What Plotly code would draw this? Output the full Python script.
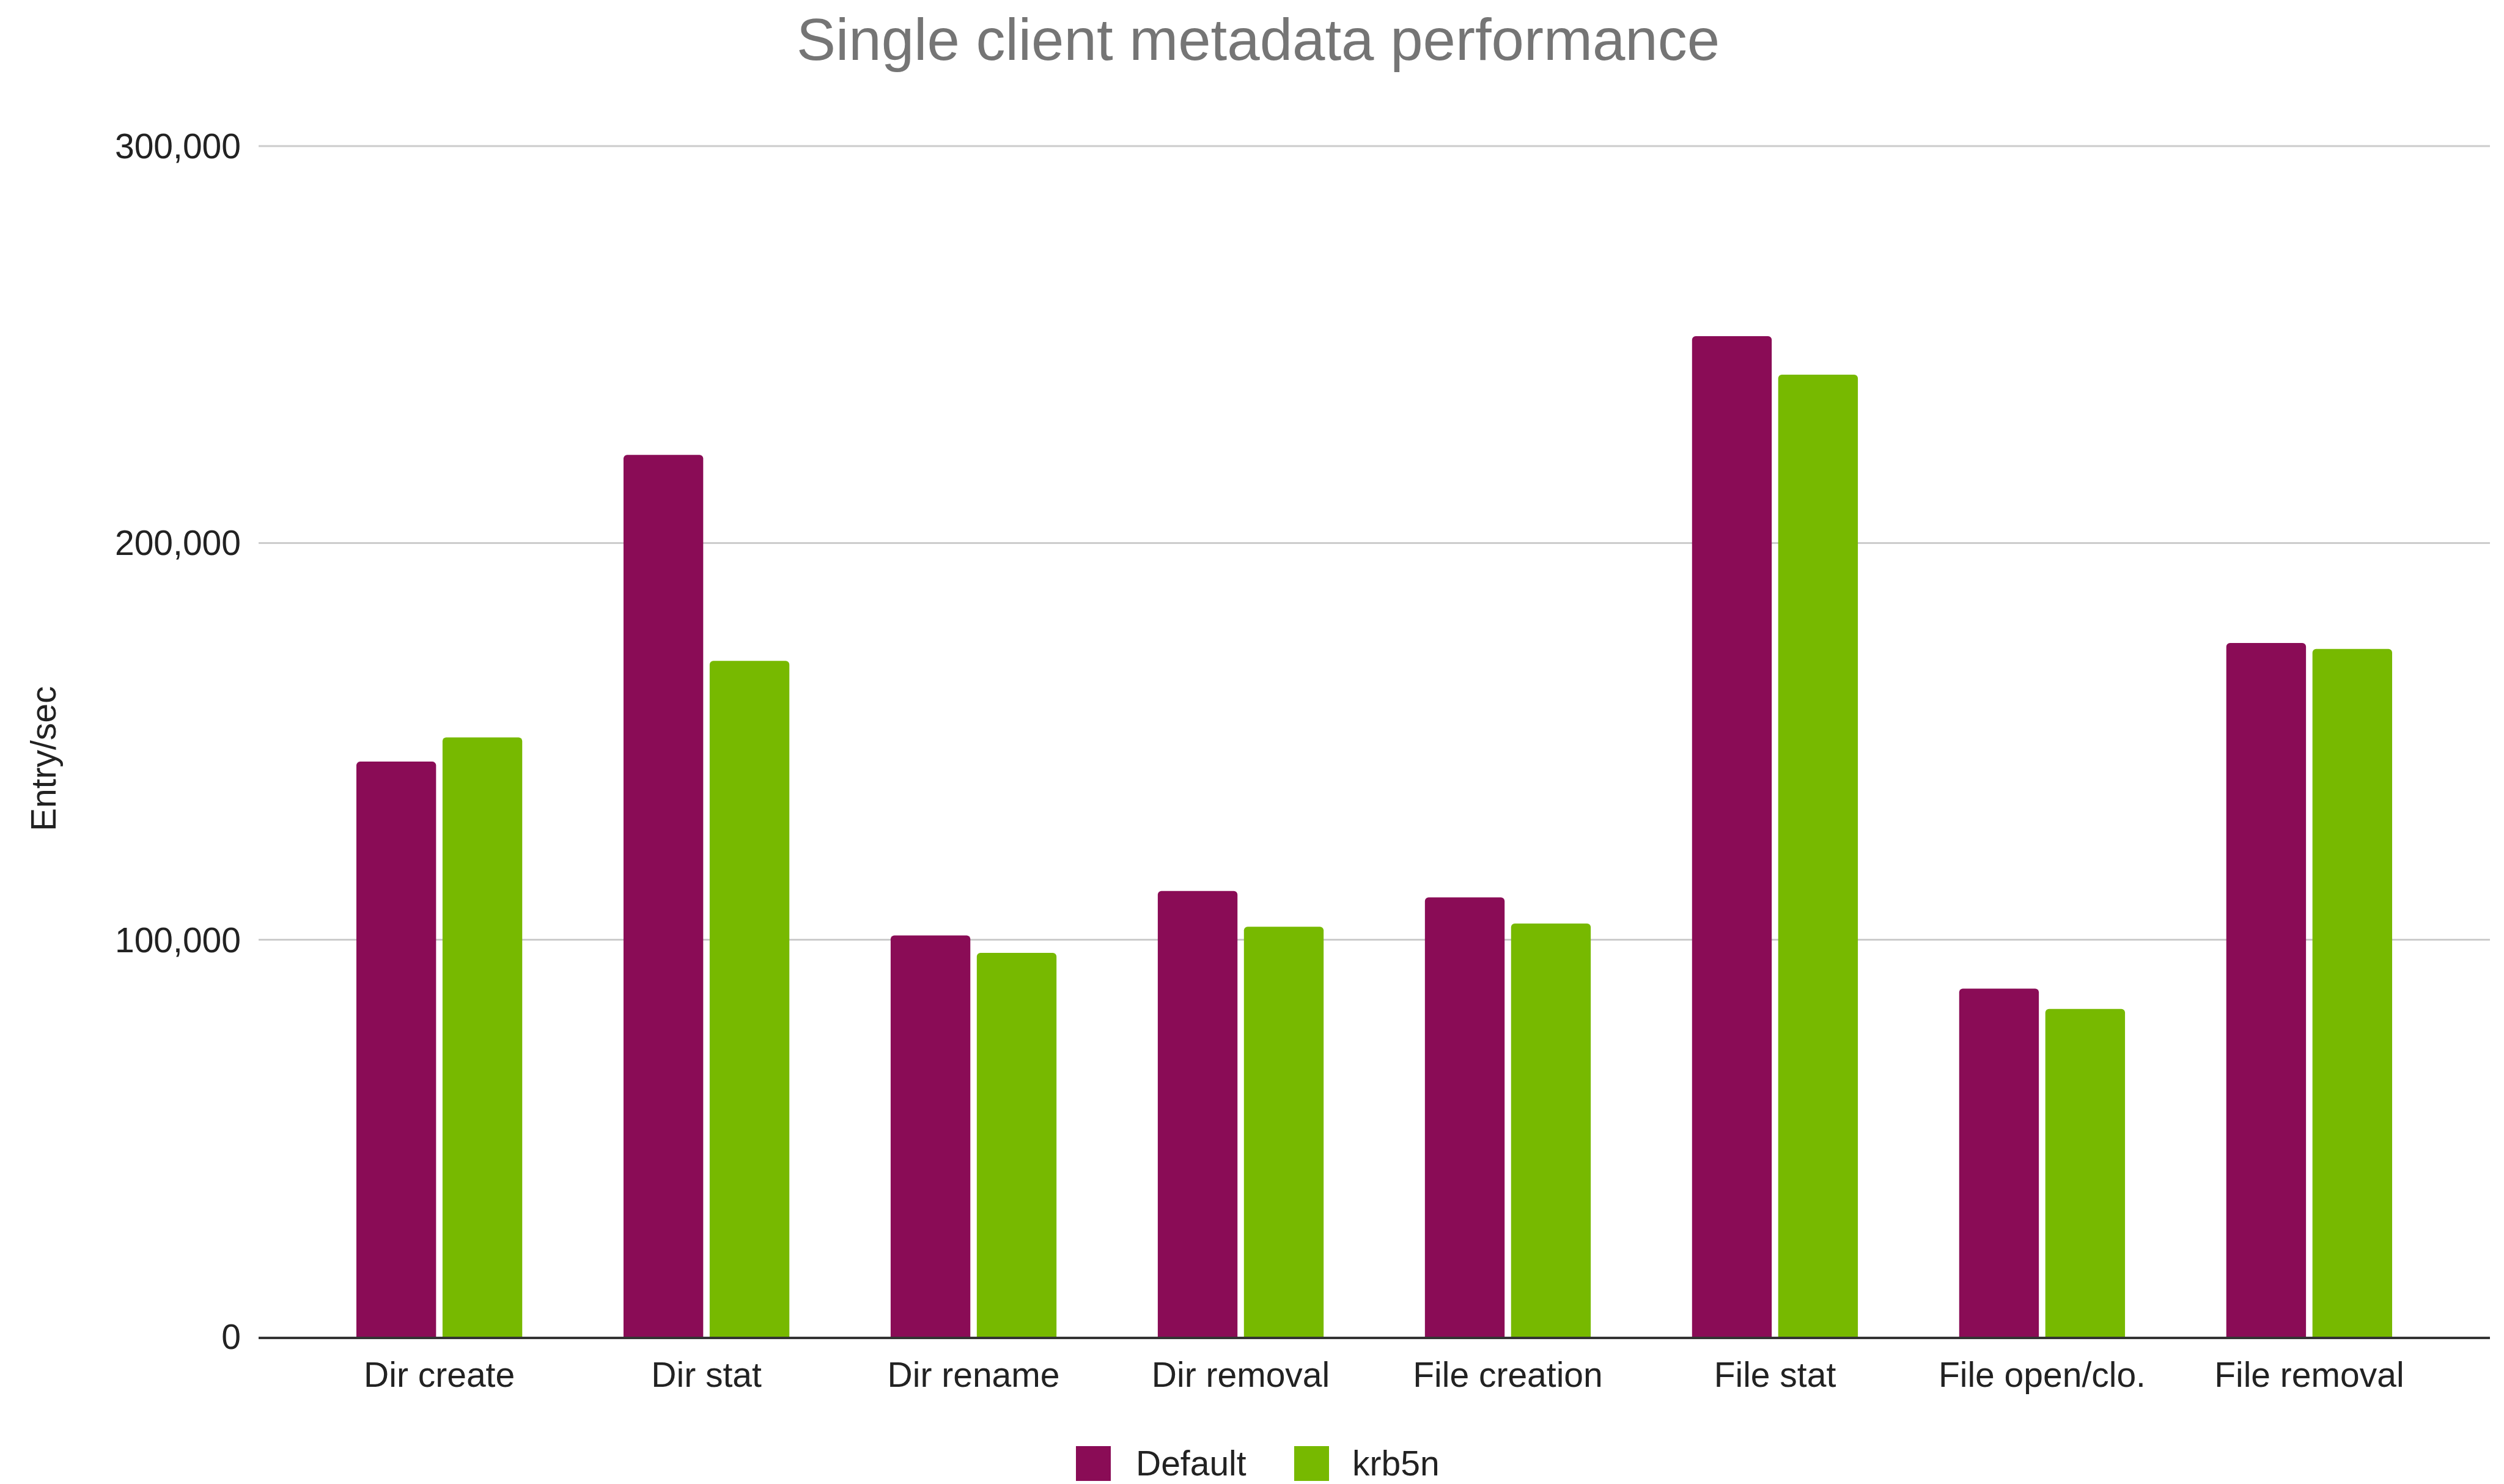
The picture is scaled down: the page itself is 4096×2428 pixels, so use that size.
import plotly.graph_objects as go

categories = ["Dir create", "Dir stat", "Dir rename", "Dir removal",
              "File creation", "File stat", "File open/clo.", "File removal"]
default_vals = [144900, 222200, 101100, 112300, 110700, 252100, 87700, 174800]
krb5n_vals = [151000, 170300, 96700, 103300, 104100, 242400, 82600, 173300]
series_names = ["Default", "krb5n"]
y_ticks = [0, 100000, 200000, 300000]

C_DEF = "#8A0C56"
C_KRB = "#77B900"
FONT = "Liberation Sans, Arial, sans-serif"

W, H = 4096, 2428
ML, MR, MT, MB = 423, 23, 239, 241
PW, PH = W - ML - MR, H - MT - MB


def px_x(x):
    return (x - ML) / PW


def px_y(y):
    return (H - MB - y) / PH


fig = go.Figure()
fig.add_trace(go.Bar(x=categories, y=default_vals, name=series_names[0],
                     marker=dict(color=C_DEF, cornerradius=6, line=dict(width=0))))
fig.add_trace(go.Bar(x=categories, y=krb5n_vals, name=series_names[1],
                     marker=dict(color=C_KRB, cornerradius=6, line=dict(width=0))))

shapes = []
annotations = []

# top gridline at the upper range edge (plotly omits the gridline lying on the range edge)
shapes.append(dict(type="line", xref="paper", yref="paper", x0=0, x1=1,
                   y0=1, y1=1,
                   line=dict(color="#cccccc", width=3), layer="below"))

# manual legend (large square swatches like the reference)
legend_items = [(series_names[0], C_DEF, 1760, 1856), (series_names[1], C_KRB, 2117, 2210)]
for name, col, sx, tx in legend_items:
    shapes.append(dict(type="rect", xref="paper", yref="paper",
                       x0=px_x(sx), x1=px_x(sx + 57), y0=px_y(2366), y1=px_y(2423),
                       fillcolor=col, line=dict(width=0), layer="above"))
    annotations.append(dict(text=name, xref="paper", yref="paper",
                            x=px_x(tx), y=px_y(2394), xanchor="left", yanchor="middle",
                            showarrow=False, font=dict(family=FONT, size=57, color="#222222")))

# y-axis title
annotations.append(dict(text="Entry/sec", xref="paper", yref="paper",
                        x=px_x(71), y=px_y(1241), xanchor="center", yanchor="middle",
                        textangle=-90, showarrow=False,
                        font=dict(family=FONT, size=57, color="#222222")))

fig.update_layout(
    width=W, height=H,
    margin=dict(l=ML, r=MR, t=MT, b=MB, pad=0),
    paper_bgcolor="white", plot_bgcolor="white",
    barmode="group", bargap=0.355, bargroupgap=0.075,
    showlegend=False,
    title=dict(text="Single client metadata performance",
               font=dict(family=FONT, size=96, color="#757575"),
               x=0.5 + 10 / W, xanchor="center", xref="container",
               y=1 - 31 / H, yanchor="top", yref="container"),
    font=dict(family=FONT, size=57, color="#222222"),
    xaxis=dict(range=[-0.6765, 7.6765], showgrid=False, showline=True,
               linecolor="#333333", linewidth=4, ticks="",
               tickfont=dict(family=FONT, size=57, color="#222222"),
               ticklabelstandoff=10, automargin=False),
    yaxis=dict(range=[0, 300000], tickvals=y_ticks, tickformat=",",
               showgrid=True, gridcolor="#cccccc", gridwidth=3,
               zeroline=False, showline=False, ticks="",
               tickfont=dict(family=FONT, size=57, color="#222222"),
               ticklabelstandoff=28, automargin=False),
    shapes=shapes,
    annotations=annotations,
)

fig.write_html("out.html")
